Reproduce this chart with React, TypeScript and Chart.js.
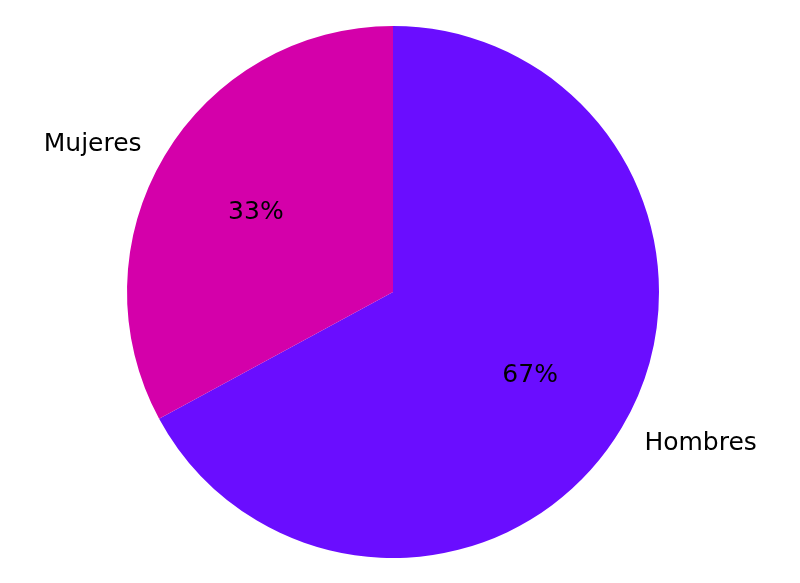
import { useEffect, useRef } from 'react';
import { Chart, registerables } from 'chart.js';

Chart.register(...registerables);

const labels = ['Hombres', 'Mujeres'];
const values = [67.1, 32.9];
const pctLabels = ['67%', '33%'];
const colors = ['#6a0dff', '#d400aa'];

const textPlugin = {
  id: 'pieText',
  afterDraw(chart: any) {
    const ctx = chart.ctx;
    const meta = chart.getDatasetMeta(0);
    ctx.save();
    ctx.fillStyle = '#000000';
    ctx.font = '25px "DejaVu Sans"';
    ctx.textBaseline = 'middle';
    meta.data.forEach((arc: any, i: number) => {
      const mid = (arc.startAngle + arc.endAngle) / 2;
      const r = arc.outerRadius;
      const cx = Math.cos(mid);
      const cy = Math.sin(mid);
      // outside label
      ctx.textAlign = cx < 0 ? 'right' : 'left';
      ctx.fillText(labels[i], arc.x + cx * r * 1.1, arc.y + cy * r * 1.1 + 2);
      // percentage inside
      ctx.textAlign = 'center';
      ctx.fillText(pctLabels[i], arc.x + cx * r * 0.6, arc.y + cy * r * 0.6 + 2);
    });
    ctx.restore();
  },
};

export default function App() {
  const canvasRef = useRef<HTMLCanvasElement>(null);
  const chartRef = useRef<Chart | null>(null);

  useEffect(() => {
    document.body.style.margin = '0';
    if (!canvasRef.current) return;
    if (chartRef.current) chartRef.current.destroy();
    const ctx = canvasRef.current.getContext('2d');
    if (!ctx) return;

    chartRef.current = new Chart(ctx, {
      type: 'pie',
      data: {
        labels: labels,
        datasets: [
          {
            data: values,
            backgroundColor: colors,
            borderWidth: 0,
          },
        ],
      },
      options: {
        responsive: false,
        animation: false,
        layout: {
          padding: { top: 26, bottom: 25, left: 127, right: 141 },
        },
        plugins: {
          legend: { display: false },
          tooltip: { enabled: false },
        },
      },
      plugins: [textPlugin],
    });

    return () => {
      if (chartRef.current) {
        chartRef.current.destroy();
        chartRef.current = null;
      }
    };
  }, []);

  return (
    <div style={{ width: 800, height: 583, background: '#ffffff' }}>
      <canvas ref={canvasRef} width={800} height={583} />
    </div>
  );
}
